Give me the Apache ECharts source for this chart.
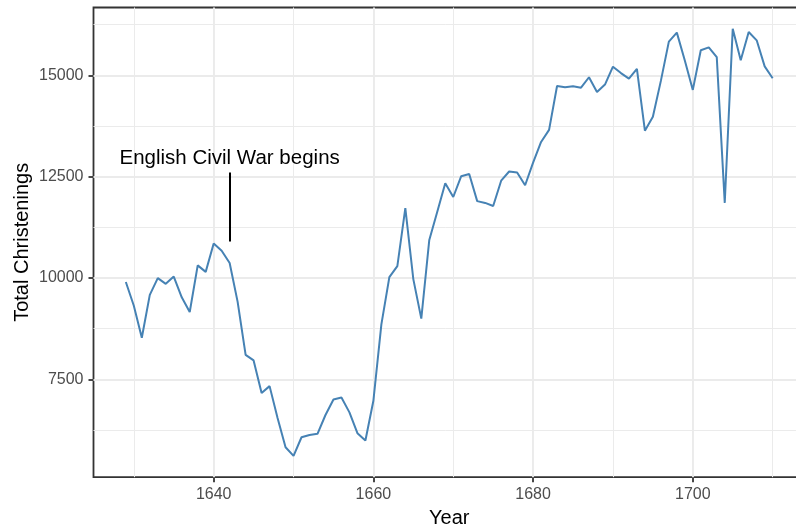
<!DOCTYPE html>
<html>
<head>
<meta charset="utf-8">
<script src="https://cdn.jsdelivr.net/npm/echarts@6/dist/echarts.min.js"></script>
<style>
html,body{margin:0;padding:0;background:#fff;}
#chart{width:796px;height:527px;}
</style>
</head>
<body>
<div id="chart"></div>
<script>
const years = [1629,1630,1631,1632,1633,1634,1635,1636,1637,1638,1639,1640,1641,1642,1643,1644,1645,1646,1647,1648,1649,1650,1651,1652,1653,1654,1655,1656,1657,1658,1659,1660,1661,1662,1663,1664,1665,1666,1667,1668,1669,1670,1671,1672,1673,1674,1675,1676,1677,1678,1679,1680,1681,1682,1683,1684,1685,1686,1687,1688,1689,1690,1691,1692,1693,1694,1695,1696,1697,1698,1699,1700,1701,1702,1703,1704,1705,1706,1707,1708,1709,1710];
const totals = [9901,9315,8524,9584,9997,9855,10034,9522,9160,10311,10150,10850,10670,10370,9410,8104,7966,7163,7332,6544,5825,5612,6071,6128,6155,6620,7004,7050,6685,6170,5990,6971,8855,10019,10292,11722,9972,8997,10938,11633,12335,11997,12510,12563,11895,11851,11775,12399,12626,12601,12288,12847,13355,13653,14735,14702,14730,14694,14951,14588,14771,15211,15054,14918,15159,13632,13976,14861,15829,16052,15363,14639,15616,15687,15448,11851,16145,15369,16066,15862,15220,14928];

const xTicks = [1640,1660,1680,1700];
const xMinor = [1630,1650,1670,1690,1710];
const yTicks = [7500,10000,12500,15000];
const yMinor = [6250,8750,11250,13750,16250];

const annotationText = 'English Civil War begins';
const annotationX = 1642;
const annotationTextY = 12950;
const segmentTop = 12600;
const segmentBottom = 10900;

// ggplot-style 5% expansion
const xMinData = Math.min(...years), xMaxData = Math.max(...years);
const yMinData = Math.min(...totals), yMaxData = Math.max(...totals);
const xPad = (xMaxData - xMinData) * 0.05;
const yPad = (yMaxData - yMinData) * 0.05;

const gridColor = '#ebebeb';
const gridLines = [];
xTicks.forEach(v => gridLines.push({xAxis: v, lineStyle: {width: 1.9, color: gridColor, type: 'solid'}}));
xMinor.forEach(v => gridLines.push({xAxis: v, lineStyle: {width: 1, color: gridColor, type: 'solid'}}));
yTicks.forEach(v => gridLines.push({yAxis: v, lineStyle: {width: 1.9, color: gridColor, type: 'solid'}}));
yMinor.forEach(v => gridLines.push({yAxis: v, lineStyle: {width: 1, color: gridColor, type: 'solid'}}));

const FONT = 'Liberation Sans, Arial, sans-serif';
const chart = echarts.init(document.getElementById('chart'), null, {renderer: 'canvas'});
chart.setOption({
  animation: false,
  backgroundColor: '#ffffff',
  textStyle: {fontFamily: FONT},
  grid: {
    left: 93.5, top: 7.5, width: 711.5, height: 469.7,
    show: true, borderColor: '#333333', borderWidth: 1.8, backgroundColor: 'transparent',
    containLabel: false, outerBoundsMode: 'none'
  },
  xAxis: {
    type: 'value',
    min: xMinData - xPad, max: xMaxData + xPad,
    name: 'Year', nameLocation: 'middle', nameGap: 31, nameMoveOverlap: false,
    nameTextStyle: {fontSize: 20, color: '#000000', fontFamily: FONT},
    axisLine: {show: false},
    axisTick: {show: true, customValues: xTicks, length: 5, lineStyle: {color: '#333333', width: 1.8}},
    axisLabel: {customValues: xTicks, fontSize: 16, color: '#4d4d4d', margin: 9, fontFamily: FONT, formatter: v => String(v)},
    splitLine: {show: false}
  },
  yAxis: {
    type: 'value',
    min: yMinData - yPad, max: yMaxData + yPad,
    name: 'Total Christenings', nameLocation: 'middle', nameGap: 61, nameRotate: 90, nameMoveOverlap: false,
    nameTextStyle: {fontSize: 20, color: '#000000', fontFamily: FONT},
    axisLine: {show: false},
    axisTick: {show: true, customValues: yTicks, length: 5, lineStyle: {color: '#333333', width: 1.8}},
    axisLabel: {customValues: yTicks, fontSize: 16, color: '#4d4d4d', margin: 10, fontFamily: FONT, formatter: v => String(v)},
    splitLine: {show: false}
  },
  series: [
    {
      type: 'line', z: 1, silent: true,
      data: [[years[0], totals[0]]],
      symbol: 'none', lineStyle: {opacity: 0},
      markLine: {z: 1, silent: true, symbol: 'none', label: {show: false}, animation: false, data: gridLines}
    },
    {
      type: 'line', z: 3,
      data: years.map((y, i) => [y, totals[i]]),
      symbol: 'none',
      lineStyle: {color: '#4682B4', width: 2},
      itemStyle: {color: '#4682B4'},
      markLine: {
        silent: true, symbol: 'none', label: {show: false}, animation: false,
        lineStyle: {color: '#000000', width: 2, type: 'solid'},
        data: [[{coord: [annotationX, segmentTop]}, {coord: [annotationX, segmentBottom]}]]
      },
      markPoint: {
        silent: true, symbol: 'circle', symbolSize: 0, animation: false,
        label: {show: true, position: 'inside', formatter: annotationText, fontSize: 20.5, color: '#000000', fontFamily: FONT},
        data: [{coord: [annotationX, annotationTextY]}]
      }
    }
  ]
});
</script>
</body>
</html>
